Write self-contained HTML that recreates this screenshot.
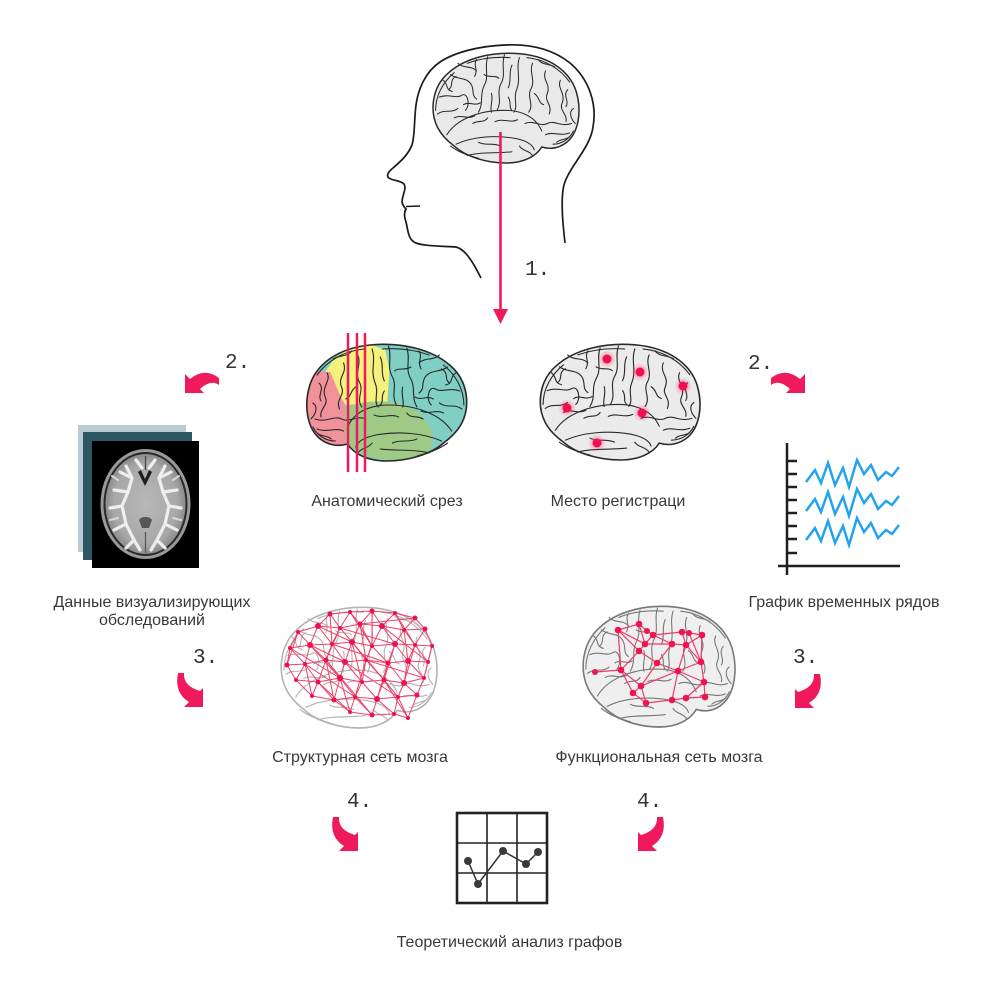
<!DOCTYPE html>
<html><head><meta charset="utf-8"><style>
html,body{margin:0;padding:0;background:#fff;}
svg{display:block;}
.lbl{font-family:"Liberation Sans",Arial,sans-serif;font-size:16px;fill:#383838;}
.num{font-family:"Liberation Mono",monospace;font-size:21px;fill:#333;}
</style></head><body>
<svg width="1000" height="987" viewBox="0 0 1000 987" xmlns="http://www.w3.org/2000/svg">
<defs>
<symbol id="br" viewBox="0 0 160 118" preserveAspectRatio="none" overflow="visible">
<path d="M8,80 C0,64 1,38 20,22 C38,6 68,-1 98,2 C128,5 150,20 157,42 C163,62 160,84 148,95 C140,102 130,104 120,101 C114,111 100,118 82,118 C60,118 38,111 26,100 C18,94 12,88 8,80 Z" stroke="currentColor" stroke-width="1.6"/>
<g fill="none" stroke="currentColor" stroke-width="1.1" stroke-linecap="round">
<path d="M18,88 C28,72 52,62 80,62 C100,62 114,70 120,84"/>
<path d="M28,98 C45,90 70,88 92,92 C102,94 110,98 112,104"/>
<path d="M40,110 C55,106 72,108 88,106"/>
<path d="M80,3 C76,14 82,24 76,34 C71,44 78,52 72,62"/>
<path d="M62,5 C58,16 64,26 58,36 C53,46 58,54 52,64"/>
<path d="M96,6 C92,18 98,28 93,40 C89,50 95,58 90,64"/>
<path d="M22,24 C30,30 38,26 44,34 C48,40 44,46 50,50"/>
<path d="M10,48 C20,44 28,50 34,46 C40,42 44,56 38,62"/>
<path d="M30,12 C36,18 44,14 50,20"/>
<path d="M8,66 C16,60 22,66 30,60"/>
<path d="M110,12 C106,22 114,30 108,40 C104,48 112,56 106,64"/>
<path d="M124,20 C120,30 130,34 126,44 C122,52 132,56 128,66"/>
<path d="M140,30 C136,38 146,44 142,54 C138,62 148,66 146,74"/>
<path d="M102,76 C112,72 118,80 126,76 C134,72 140,80 152,76"/>
<path d="M124,88 C132,84 140,90 150,86"/>
<path d="M20,40 C26,36 20,30 28,26"/>
<path d="M36,56 C42,52 48,58 54,54"/>
<path d="M66,44 C68,52 64,58 66,64"/>
<path d="M46,76 C52,72 58,76 62,70"/>
<path d="M14,30 C20,34 16,40 24,42"/>
<path d="M50,8 C46,14 52,18 48,26"/>
<path d="M88,14 C84,22 88,30 84,38"/>
<path d="M116,8 C120,14 128,12 134,16"/>
<path d="M148,40 C142,46 150,52 146,58"/>
<path d="M154,60 C148,64 152,72 156,76"/>
<path d="M26,70 C34,66 40,72 48,68"/>
<path d="M70,74 C78,70 86,76 94,72"/>
<path d="M52,96 C60,100 68,96 76,100"/>
<path d="M96,100 C100,106 106,104 110,110"/>
<path d="M136,96 C140,92 146,94 150,90"/>
<path d="M112,44 C118,48 116,54 122,56"/>
<path d="M58,24 C64,28 70,24 74,28"/>
<path d="M84,48 C88,54 84,58 88,62"/>
<path d="M6,62 C6,46 14,32 26,22"/>
<path d="M40,12 C56,6 72,5 86,6"/>
<path d="M104,6 C124,8 140,18 150,32"/>
<path d="M22,100 C30,106 40,110 52,113"/>
<path d="M132,98 C142,98 150,92 154,84"/>
</g>
</symbol>
<clipPath id="bc"><path d="M8,80 C0,64 1,38 20,22 C38,6 68,-1 98,2 C128,5 150,20 157,42 C163,62 160,84 148,95 C140,102 130,104 120,101 C114,111 100,118 82,118 C60,118 38,111 26,100 C18,94 12,88 8,80 Z"/></clipPath>
<path id="ca" d="M0,34 L0,15 L3,18 Q20,13 19,0 L25,0 Q29,20 14,29 L19,34 Z"/>
<path id="a2" d="M0,34 L0,15 L4,19 Q14,8 8,0 L15,0 Q26,14 14,29 L19,34 Z"/>
<radialGradient id="glow"><stop offset="0" stop-color="#ff2a64" stop-opacity="0.6"/><stop offset="1" stop-color="#ff2a64" stop-opacity="0"/></radialGradient>
<radialGradient id="mri" cx="0.5" cy="0.5" r="0.5"><stop offset="0" stop-color="#b8b8b8"/><stop offset="0.8" stop-color="#a8a8a8"/><stop offset="1" stop-color="#8c8c8c"/></radialGradient>
</defs>

<!-- Head -->
<path d="M565,243 C563,225 561,205 563,190 C565,170 590,150 593,127 C597,105 590,80 570,63 C550,47 525,44 505,45 C480,46 455,52 440,62 C425,72 418,90 416,105 C414,120 415,135 412,145 C408,155 400,162 393,168 C388,172 386,176 389,178 C393,181 400,180 404,184 C407,188 402,196 402,202 C403,206 405,208 406,209 C404,212 404,216 406,222 C408,230 408,238 414,242 C420,246 440,246 456,247 C465,249 473,262 481,278" fill="none" stroke="#1a1a1a" stroke-width="1.7"/>
<path d="M406,206.5 L420,206" fill="none" stroke="#1a1a1a" stroke-width="1.5"/>
<use href="#br" x="430" y="52" width="149" height="111" style="color:#2a2a2a;fill:#e9e9e9"/>

<!-- red vertical arrow -->
<line x1="500.5" y1="132" x2="500.5" y2="312" stroke="#ef1a5b" stroke-width="2.6"/>
<polygon points="493,309 508,309 500.5,324" fill="#ef1a5b"/>
<text class="num" x="525" y="275">1.</text>

<!-- Colored brain -->
<g transform="translate(470,343) scale(-1.02,1)">
<g clip-path="url(#bc)">
<rect x="-5" y="-5" width="175" height="130" fill="#80cfc4"/>
<polygon points="142,29 134,17 121,7 96,2 83,7 79,27 81,59 122,62 137,37" fill="#f6f07c"/>
<polygon points="170,27 137,29 127.5,52 120.6,67 122.5,107 170,107" fill="#f1929b"/>
<path d="M122.5,64 C105,58 80,56 64,62 C52,66 40,78 37,92 C35,104 42,112 58,117 C75,121 100,118 122,100 Z" fill="#9fca86"/>
</g>
<use href="#br" width="160" height="118" style="color:#2a2a2a;fill:none"/>
</g>
<g stroke="#ef1a5b" stroke-width="2.5">
<line x1="348" y1="333" x2="348" y2="472"/>
<line x1="357" y1="333" x2="357" y2="472"/>
<line x1="365" y1="333" x2="365" y2="472"/>
</g>
<text class="lbl" x="387" y="506" text-anchor="middle">Анатомический срез</text>

<!-- Recording sites brain -->
<use href="#br" x="537" y="343" width="163" height="117" style="color:#2a2a2a;fill:#ebebeb"/>
<g>
<circle cx="607" cy="359" r="9" fill="url(#glow)"/><circle cx="607" cy="359" r="4.5" fill="#f0104f"/>
<circle cx="640" cy="372" r="9" fill="url(#glow)"/><circle cx="640" cy="372" r="4.5" fill="#f0104f"/>
<circle cx="683" cy="386" r="9" fill="url(#glow)"/><circle cx="683" cy="386" r="4.5" fill="#f0104f"/>
<circle cx="567" cy="408" r="9" fill="url(#glow)"/><circle cx="567" cy="408" r="4.5" fill="#f0104f"/>
<circle cx="642" cy="413" r="9" fill="url(#glow)"/><circle cx="642" cy="413" r="4.5" fill="#f0104f"/>
<circle cx="597" cy="443" r="9" fill="url(#glow)"/><circle cx="597" cy="443" r="4.5" fill="#f0104f"/>
</g>
<text class="lbl" x="618" y="506" text-anchor="middle">Место регистраци</text>

<!-- 2. arrows -->
<text class="num" x="225" y="368">2.</text>
<use href="#a2" transform="matrix(0,-1,-1,0,219,393)" fill="#ef1a5b"/>
<text class="num" x="748" y="369">2.</text>
<g transform="translate(990,0) scale(-1,1)"><use href="#a2" transform="matrix(0,-1,-1,0,219,393)" fill="#ef1a5b"/></g>

<!-- MRI -->
<rect x="78" y="425" width="108" height="127" fill="#b9ccd4"/>
<rect x="83" y="432" width="109" height="128" fill="#2f5763"/>
<rect x="92" y="441" width="107" height="127" fill="#000"/>
<ellipse cx="145.5" cy="504" rx="45" ry="55" fill="#9a9a9a"/>
<ellipse cx="145.5" cy="504" rx="42" ry="52" fill="#2a2a2a"/>
<ellipse cx="145.5" cy="504" rx="40" ry="50" fill="url(#mri)"/>
<g fill="none" stroke="#eeeeee" stroke-width="3.2" stroke-linecap="round" stroke-linejoin="round">
<path d="M126,466 L132,478 L128,492 L122,506 L126,524 L134,540 L140,550"/>
<path d="M165,466 L159,478 L163,492 L169,506 L165,524 L157,540 L151,550"/>
<path d="M132,478 L120,472 M128,492 L114,490 M122,506 L110,508 M126,524 L114,530 M134,540 L126,548"/>
<path d="M159,478 L171,472 M163,492 L177,490 M169,506 L181,508 M165,524 L177,530 M157,540 L165,548"/>
<path d="M136,460 L142,468 M155,460 L149,468"/>
</g>
<g fill="none" stroke="#d8d8d8" stroke-width="2" stroke-linecap="round">
<path d="M118,480 L112,476 M118,518 L110,520 M173,480 L179,476 M173,518 L181,520"/>
</g>
<path d="M138,472 L145,486 L152,472 L149,470 L145,479 L141,470 Z" fill="#1e1e1e"/>
<path d="M139,520 C141,516 150,516 152,520 L149,528 L142,528 Z" fill="#555"/>
<line x1="145.5" y1="456" x2="145.5" y2="470" stroke="#444" stroke-width="1.2"/>
<line x1="145.5" y1="532" x2="145.5" y2="553" stroke="#555" stroke-width="1.2"/>
<text class="lbl" x="152" y="607" text-anchor="middle">Данные визуализирующих</text>
<text class="lbl" x="152" y="625" text-anchor="middle">обследований</text>

<!-- Time series chart -->
<g stroke="#1f1f1f" stroke-width="2.5" fill="none">
<line x1="787" y1="443" x2="787" y2="575"/>
<line x1="778" y1="566" x2="900" y2="566"/>
<path d="M787,461 H797 M787,474 H797 M787,487 H797 M787,500 H797 M787,513 H797 M787,526 H797 M787,539 H797 M787,553 H797"/>
</g>
<g stroke="#23a3ee" stroke-width="2.5" fill="none" stroke-linejoin="miter">
<path d="M806,482 L815,470 L821,483 L828,463 L835,485 L843,468 L849,487 L857,460 L864,474 L871,465 L878,480 L886,472 L892,476 L899,467"/>
<path transform="translate(0,29)" d="M806,482 L815,470 L821,483 L828,463 L835,485 L843,468 L849,487 L857,460 L864,474 L871,465 L878,480 L886,472 L892,476 L899,467"/>
<path transform="translate(0,58)" d="M806,482 L815,470 L821,483 L828,463 L835,485 L843,468 L849,487 L857,460 L864,474 L871,465 L878,480 L886,472 L892,476 L899,467"/>
</g>
<text class="lbl" x="844" y="607" text-anchor="middle">График временных рядов</text>

<!-- 3. arrows -->
<text class="num" x="193" y="663">3.</text>
<use href="#ca" transform="translate(203,673) scale(-1,1)" fill="#ef1a5b"/>
<text class="num" x="793" y="663">3.</text>
<use href="#ca" transform="translate(795,674)" fill="#ef1a5b"/>

<!-- Structural network -->
<use href="#br" x="278" y="606" width="159" height="122" style="color:#b3b3b3;fill:#fff"/>
<g stroke="#f0406c" stroke-width="1" fill="none" stroke-linejoin="round">
<path d="M330,614 L350,612 L372,611 L395,613 L415,618"/>
<path d="M298,632 L318,626 L340,628 L360,624 L382,626 L404,630 L425,629"/>
<path d="M290,648 L310,645 L332,644 L352,642 L372,646 L395,644 L415,645 L432,646"/>
<path d="M287,665 L305,664 L326,660 L345,662 L366,660 L388,663 L408,661 L428,662"/>
<path d="M296,680 L318,682 L340,678 L362,682 L384,680 L404,683 L424,678"/>
<path d="M312,696 L334,700 L355,697 L377,699 L398,697 L417,695"/>
<path d="M350,712 L372,715 L394,714 L408,718"/>
<path d="M318,626 L330,614 L340,628 L350,612 L360,624 L372,611 L382,626 L395,613 L404,630 L415,618 L425,629"/>
<path d="M290,648 L298,632 L310,645 L318,626 L332,644 L340,628 L352,642 L360,624 L372,646 L382,626 L395,644 L404,630 L415,645 L425,629 L432,646"/>
<path d="M287,665 L290,648 L305,664 L310,645 L326,660 L332,644 L345,662 L352,642 L366,660 L372,646 L388,663 L395,644 L408,661 L415,645 L428,662 L432,646"/>
<path d="M287,665 L296,680 L305,664 L318,682 L326,660 L340,678 L345,662 L362,682 L366,660 L384,680 L388,663 L404,683 L408,661 L424,678 L428,662"/>
<path d="M296,680 L312,696 L318,682 L334,700 L340,678 L355,697 L362,682 L377,699 L384,680 L398,697 L404,683 L417,695 L424,678"/>
<path d="M334,700 L350,712 L355,697 L372,715 L377,699 L394,714 L398,697 L408,718 L417,695"/>
<path d="M330,614 L332,644 M372,611 L372,646 M360,624 L366,660 M310,645 L340,678 M395,644 L384,680 M326,660 L334,700 M388,663 L377,699 M404,630 L408,661 M350,612 L372,646 M352,642 L362,682 M366,660 L355,697 M340,678 L350,712 M340,628 L326,660 M415,645 L404,683 M395,613 L415,645 M298,632 L287,665 M318,682 L350,712 M384,680 L408,718 M432,646 L424,678 M305,664 L312,696"/>
<path d="M318,626 L352,642 L384,680 M340,628 L395,644 M310,645 L345,662 L398,697 M290,648 L340,678 M332,644 L388,663 M382,626 L428,662 M360,624 L415,618 M305,664 L355,697 M366,660 L424,678 M326,660 L372,715"/>
</g>
<g fill="#e8134f">
<circle cx="330" cy="614" r="2.5"/><circle cx="350" cy="612" r="2"/><circle cx="372" cy="611" r="2.5"/><circle cx="395" cy="613" r="2"/><circle cx="415" cy="618" r="2.5"/>
<circle cx="298" cy="632" r="2"/><circle cx="318" cy="626" r="3"/><circle cx="340" cy="628" r="2"/><circle cx="360" cy="624" r="2.5"/><circle cx="382" cy="626" r="3"/><circle cx="404" cy="630" r="2"/><circle cx="425" cy="629" r="2.5"/>
<circle cx="290" cy="648" r="2"/><circle cx="310" cy="645" r="3"/><circle cx="332" cy="644" r="2"/><circle cx="352" cy="642" r="3"/><circle cx="372" cy="646" r="2"/><circle cx="395" cy="644" r="3"/><circle cx="415" cy="645" r="2"/><circle cx="432" cy="646" r="2"/>
<circle cx="287" cy="665" r="2.5"/><circle cx="305" cy="664" r="2"/><circle cx="326" cy="660" r="2.5"/><circle cx="345" cy="662" r="3"/><circle cx="366" cy="660" r="2"/><circle cx="388" cy="663" r="2.5"/><circle cx="408" cy="661" r="3"/><circle cx="428" cy="662" r="2"/>
<circle cx="296" cy="680" r="2"/><circle cx="318" cy="682" r="2.5"/><circle cx="340" cy="678" r="3.2"/><circle cx="362" cy="682" r="2"/><circle cx="384" cy="680" r="2.5"/><circle cx="404" cy="683" r="3"/><circle cx="424" cy="678" r="2"/>
<circle cx="312" cy="696" r="2"/><circle cx="334" cy="700" r="2.5"/><circle cx="355" cy="697" r="2"/><circle cx="377" cy="699" r="3"/><circle cx="398" cy="697" r="2"/><circle cx="417" cy="695" r="2.5"/>
<circle cx="350" cy="712" r="2"/><circle cx="372" cy="715" r="2.5"/><circle cx="394" cy="714" r="2"/><circle cx="408" cy="718" r="2"/>
</g>
<text class="lbl" x="360" y="762" text-anchor="middle">Структурная сеть мозга</text>

<!-- Functional network -->
<use href="#br" x="580" y="605" width="155" height="122" style="color:#777;fill:#efefef"/>
<g stroke="#ee3a6a" stroke-width="1.2" fill="none">
<path d="M618,630 L639,624 M618,630 L645,644 M618,630 L639,651 M618,630 L621,670 M639,624 L647,631 L653,635 L682,632 L689,633 L702,635 M653,635 L645,644 L639,651 M645,644 L672,644 L686,645 L682,632 M702,635 L686,645 M702,635 L701,662 L686,645 M639,651 L657,663 L672,644 M657,663 L678,671 L686,645 M701,662 L678,671 M701,662 L704,682 M621,670 L595,672 M621,670 L639,651 M621,670 L641,686 L633,693 L646,703 L672,700 L678,671 L641,686 L657,663 M672,700 L686,698 L704,682 M686,698 L705,697 L704,682 L678,671 M641,686 L646,703 M653,635 L672,644 M639,624 L645,644 M689,633 L701,662 M621,670 L633,693 M672,700 L678,671"/>
</g>
<g fill="#ee1450">
<circle cx="618" cy="630" r="3.3"/><circle cx="639" cy="624" r="3.3"/><circle cx="647" cy="631" r="3"/><circle cx="653" cy="635" r="3.3"/><circle cx="682" cy="632" r="3.3"/><circle cx="689" cy="633" r="3"/><circle cx="702" cy="635" r="3.3"/><circle cx="645" cy="644" r="3.3"/><circle cx="672" cy="644" r="3.3"/><circle cx="686" cy="645" r="3.3"/><circle cx="639" cy="651" r="3.3"/><circle cx="657" cy="663" r="3.3"/><circle cx="701" cy="662" r="3.3"/><circle cx="621" cy="670" r="3.3"/><circle cx="595" cy="672" r="3"/><circle cx="678" cy="671" r="3.3"/><circle cx="641" cy="686" r="3.3"/><circle cx="704" cy="682" r="3.3"/><circle cx="633" cy="693" r="3.3"/><circle cx="672" cy="700" r="3.3"/><circle cx="686" cy="698" r="3.3"/><circle cx="705" cy="697" r="3.3"/><circle cx="646" cy="703" r="3.3"/>
</g>
<text class="lbl" x="659" y="762" text-anchor="middle">Функциональная сеть мозга</text>

<!-- 4. arrows -->
<text class="num" x="347" y="807">4.</text>
<use href="#ca" transform="translate(358,817) scale(-1,1)" fill="#ef1a5b"/>
<text class="num" x="637" y="807">4.</text>
<use href="#ca" transform="translate(638,817)" fill="#ef1a5b"/>

<!-- Graph theory icon -->
<rect x="457" y="813" width="90" height="90" fill="#fff" stroke="#222" stroke-width="2.6"/>
<g stroke="#222" stroke-width="1.6">
<line x1="487" y1="813" x2="487" y2="903"/><line x1="517" y1="813" x2="517" y2="903"/>
<line x1="457" y1="843" x2="547" y2="843"/><line x1="457" y1="873" x2="547" y2="873"/>
</g>
<polyline points="468,861 478,884 503,851 526,864 538,852" fill="none" stroke="#333" stroke-width="1.5"/>
<g fill="#3a3a3a">
<circle cx="468" cy="861" r="4"/><circle cx="478" cy="884" r="4"/><circle cx="503" cy="851" r="4"/><circle cx="526" cy="864" r="4"/><circle cx="538" cy="852" r="4"/>
</g>
<text class="lbl" x="509.5" y="947" text-anchor="middle">Теоретический анализ графов</text>
</svg>
</body></html>
